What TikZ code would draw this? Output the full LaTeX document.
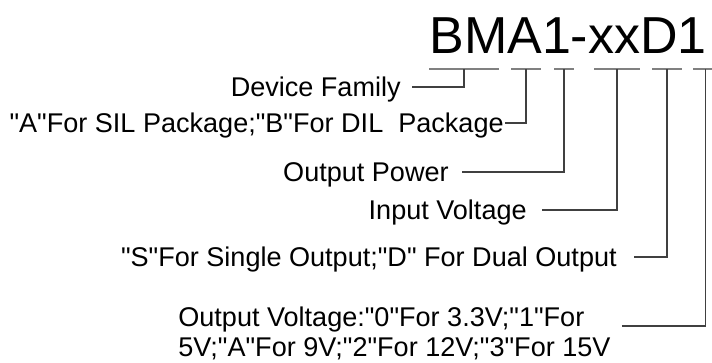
\documentclass[tikz,border=0pt]{standalone}
\usepackage{fontspec}
\setmainfont{Liberation Sans}[Ligatures=TeXOff]
\usepackage{tikz}

\begin{document}
\begin{tikzpicture}[
    x=0.02cm, y=-0.02cm,
    lbl/.style={inner sep=0pt, anchor=east, text height=11pt, text depth=0pt, font=\fontsize{15.4}{17}\selectfont},
    underline/.style={black!50, line width=1.1pt},
    leader/.style={black!75, line width=0.6pt}
    ]
    \useasboundingbox (0, 0) rectangle (712, 362);

    % Part number
    \node[inner sep=0pt, anchor=base west, font=\fontsize{29.6}{32}\selectfont] (part) at (429, 53) {BMA1-xxD1};

    % Underlines below the groups of letters
    \draw[underline] (429, 69) -- coordinate (uBM) (499, 69);
    \draw[underline] (511, 69) -- coordinate (uA) (541, 69);
    \draw[underline] (554, 69) -- coordinate (uPow) (574, 69);
    \draw[underline] (594, 69) -- coordinate (uxx) (640, 69);
    \draw[underline] (652, 69) -- coordinate (uD) (682, 69);
    \draw[underline] (693, 69) -- coordinate (uVout) (718, 69);

    % Labels
    \node[lbl] (family) at (401, 87) {Device Family};
    \node[lbl] (package) at (504, 123) {"A"For SIL Package;"B"For DIL\ \ Package};
    \node[lbl] (power) at (449, 172) {Output Power};
    \node[lbl] (vin) at (527, 210) {Input Voltage};
    \node[lbl] (outputs) at (617, 257) {"S"For Single Output;"D" For Dual Output};
    \node[inner sep=0pt, anchor=west, align=left, font=\fontsize{15.4}{17}\selectfont] (vout) at (178, 333)
        {Output Voltage:"0"For 3.3V;"1"For\\5V;"A"For 9V;"2"For 12V;"3"For 15V};

    % Leader lines
    \draw[leader] (family.east) ++(11, 0) -| (uBM);
    \draw[leader] (package.east) ++(1, 0) -| (uA);
    \draw[leader] (power.east) ++(13, 0) -| (uPow);
    \draw[leader] (vin.east) ++(15, 0) -| (uxx);
    \draw[leader] (outputs.east) ++(17, 0) -| (uD);
    \draw[leader] (vout.east) ++(11, -7) -| (uVout);
\end{tikzpicture}
\end{document}
